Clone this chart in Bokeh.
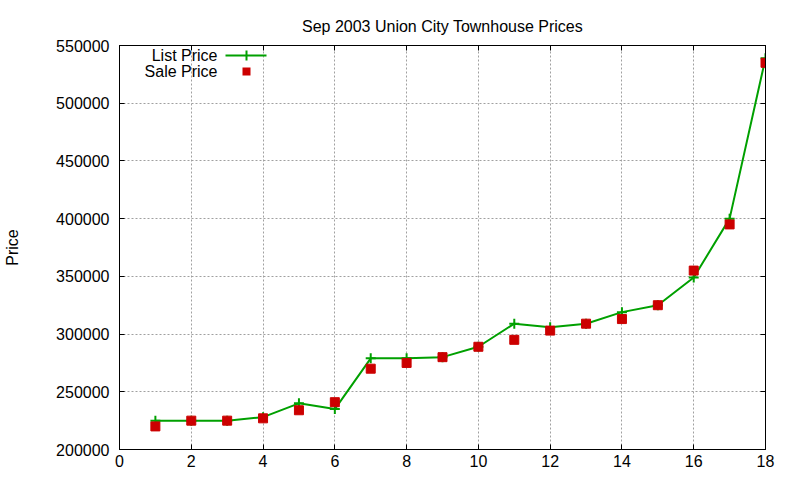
from bokeh.plotting import figure
from bokeh.models import (ColumnDataSource, Label, BoxAnnotation, LinearAxis,
                          Range1d, FixedTicker, BasicTickFormatter)
from bokeh.embed import file_html
from bokeh.resources import INLINE

# values
lot = [1, 2, 3, 4, 5, 6, 7, 8, 9, 10, 11, 12, 13, 14, 15, 16, 17, 18]
list_price = [225000, 225000, 225000, 228000, 240000, 235000, 279000, 279000, 280000,
              289000, 309000, 306000, 309000, 319000, 325000, 349000, 400000, 539000]
sale_price = [220000, 225000, 225000, 227000, 234000, 241000, 270000, 275000, 280000,
              289000, 295000, 303000, 309000, 313000, 325000, 355000, 395000, 535000]
x_ticks = list(range(0, 19, 2))
y_ticks = list(range(200000, 550001, 50000))

FONT = "Liberation Sans"
FS = "16px"
GREEN = "#00a000"
RED = "#cc0000"
W, H = 800, 480

p = figure(width=W, height=H, output_backend="svg", toolbar_location=None,
           tools="", x_range=Range1d(0, 18), y_range=Range1d(200000, 550000),
           title="Sep 2003 Union City Townhouse Prices",
           min_border_left=119, min_border_right=35, min_border_top=45,
           min_border_bottom=31)
p.background_fill_color = "white"
p.border_fill_color = "white"
p.outline_line_color = "black"
p.outline_line_width = 1

p.title.align = "center"
p.title.text_font = FONT
p.title.text_font_size = FS
p.title.text_font_style = "normal"
p.title.text_color = "black"
p.title.standoff = 22

src = ColumnDataSource(dict(lot=lot, list_price=list_price, sale_price=sale_price))
p.line("lot", "list_price", source=src, line_color=GREEN, line_width=2)
p.scatter("lot", "list_price", source=src, marker="cross", size=10,
          line_color=GREEN, line_width=2)
p.scatter("lot", "sale_price", source=src, marker="square", size=9,
          fill_color=RED, line_color=RED)

bottom = p.below[0]
left = p.left[0]
bottom.ticker = FixedTicker(ticks=x_ticks)
left.ticker = FixedTicker(ticks=y_ticks)
left.formatter = BasicTickFormatter(use_scientific=False)
left.axis_label = "Price"
left.axis_label_standoff = 32
left.axis_label_text_font = FONT
left.axis_label_text_font_size = FS
left.axis_label_text_font_style = "normal"
left.axis_label_text_color = "black"

# mirrored ticks on top and right, with empty labels
top = LinearAxis(ticker=FixedTicker(ticks=x_ticks),
                 major_label_overrides={t: "" for t in x_ticks})
right = LinearAxis(ticker=FixedTicker(ticks=y_ticks),
                   major_label_overrides={t: "" for t in y_ticks})
p.add_layout(top, "above")
p.add_layout(right, "right")

for ax in (bottom, left, top, right):
    ax.major_tick_in = 5
    ax.major_tick_out = 0
    ax.minor_tick_in = 0
    ax.minor_tick_out = 0
    ax.axis_line_color = "black"
    ax.major_tick_line_color = "black"
    ax.major_label_text_font = FONT
    ax.major_label_text_font_size = FS
    ax.major_label_text_color = "black"
bottom.major_label_standoff = 5
left.major_label_standoff = 10

p.grid.grid_line_color = "#a0a0a0"
p.grid.grid_line_dash = "2 2"
p.grid.grid_line_width = 1
p.xgrid.ticker = FixedTicker(ticks=x_ticks)
p.ygrid.ticker = FixedTicker(ticks=y_ticks)

# gnuplot-style key: text on the left, sample on the right
# (screen positions are measured from the frame's bottom-left corner)
for y, s in ((394, "List Price"), (378, "Sale Price")):
    p.add_layout(Label(x=98, y=y, x_units="screen", y_units="screen", text=s,
                       text_font=FONT, text_font_size=FS, text_align="right",
                       text_baseline="middle", text_color="black"))
box = dict(left_units="screen", right_units="screen", top_units="screen",
           bottom_units="screen", line_color=None, fill_alpha=1)
p.add_layout(BoxAnnotation(left=106, right=147, bottom=393, top=395,
                           fill_color=GREEN, **box))
p.add_layout(BoxAnnotation(left=126, right=128, bottom=389, top=399,
                           fill_color=GREEN, **box))
p.add_layout(BoxAnnotation(left=123, right=131, bottom=374, top=382,
                           fill_color=RED, **box))

open("out.html", "w").write(file_html(p, INLINE))
